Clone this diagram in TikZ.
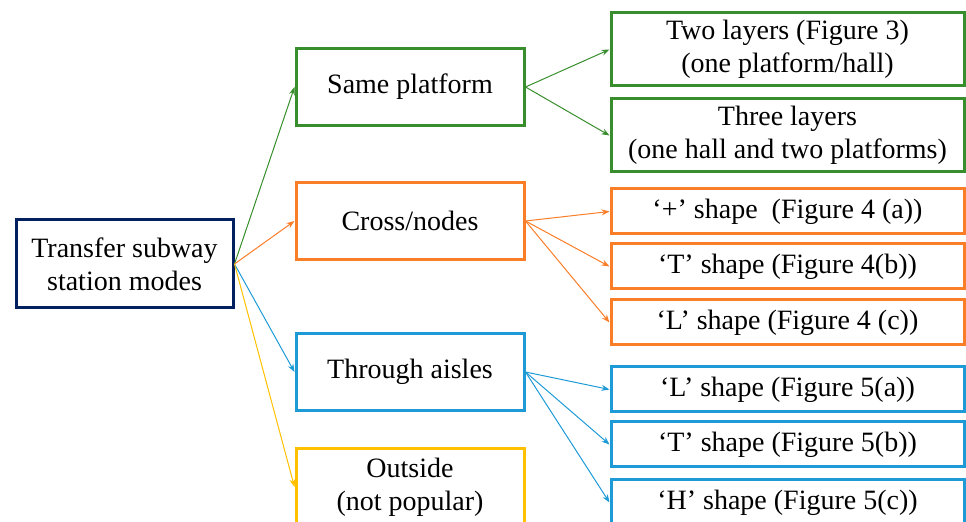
\documentclass[tikz,border=0pt]{standalone}
\usepackage{fontspec}
\setmainfont{Liberation Serif}
\usepackage{xcolor}
\usetikzlibrary{
arrows.meta,
positioning
}

\definecolor{rootblue}{RGB}{0,32,96}
\definecolor{modegreen}{RGB}{56,142,44}
\definecolor{modeorange}{RGB}{250,125,40}
\definecolor{modeblue}{RGB}{30,155,215}
\definecolor{modeyellow}{RGB}{255,192,0}

\begin{document}
\begin{tikzpicture}[
font=\fontsize{14}{16.5}\selectfont,
box/.style={
draw=#1,
line width=1.5pt,
minimum width=114pt,
minimum height=38.5pt,
align=center,
inner sep=2pt
},
leaf/.style={
box=#1,
minimum width=176.5pt,
minimum height=22.5pt
},
tall/.style={minimum height=36.5pt},
arrow/.style={-{Stealth[length=4pt,width=3pt]},line width=0.5pt,draw=#1}
]

\useasboundingbox (0,0) rectangle (483pt,-261pt);
\clip (0,0) rectangle (483pt,-261pt);

\node[box=rootblue,minimum width=108.5pt,minimum height=44pt] (root) at (62.25pt,-132pt) {Transfer subway\\station modes};

% second level
\node[box=modegreen] (same) at (205pt,-43.5pt) {Same platform};
\node[box=modeorange,below=27pt of same] (cross) {Cross/nodes};
\node[box=modeblue,below=35.5pt of cross] (through) {Through aisles};
\node[box=modeyellow,below=16.5pt of through,yshift=-1pt] (outside) {Outside\\(not popular)};

% third level
\node[leaf=modegreen,tall,right=42pt of same,yshift=18.75pt] (two) {Two layers (Figure 3)\\(one platform/hall)};
\node[leaf=modegreen,tall,below=5pt of two] (three) {Three layers\\(one hall and two platforms)};

\node[leaf=modeorange,right=42pt of cross,yshift=4.75pt] (plus) {‘+’ shape\ \ (Figure 4 (a))};
\node[leaf=modeorange,below=3.5pt of plus] (tcross) {‘T’ shape (Figure 4(b))};
\node[leaf=modeorange,below=4pt of tcross] (lcross) {‘L’ shape (Figure 4 (c))};

\node[leaf=modeblue,right=42pt of through,yshift=-8.75pt] (lthrough) {‘L’ shape (Figure 5(a))};
\node[leaf=modeblue,below=3.5pt of lthrough] (tthrough) {‘T’ shape (Figure 5(b))};
\node[leaf=modeblue,below=4pt of tthrough,yshift=-1pt] (hthrough) {‘H’ shape (Figure 5(c))};

\draw[arrow=modegreen] (root.east) -- (same.west);
\draw[arrow=modeorange] (root.east) -- (cross.west);
\draw[arrow=modeblue] (root.east) -- (through.west);
\draw[arrow=modeyellow] (root.east) -- (outside.west);

\draw[arrow=modegreen] (same.east) -- (two.west);
\draw[arrow=modegreen] (same.east) -- (three.west);

\draw[arrow=modeorange] (cross.east) -- (plus.west);
\draw[arrow=modeorange] (cross.east) -- (tcross.west);
\draw[arrow=modeorange] (cross.east) -- (lcross.west);

\draw[arrow=modeblue] (through.east) -- (lthrough.west);
\draw[arrow=modeblue] (through.east) -- (tthrough.west);
\draw[arrow=modeblue] (through.east) -- (hthrough.west);

\end{tikzpicture}
\end{document}
